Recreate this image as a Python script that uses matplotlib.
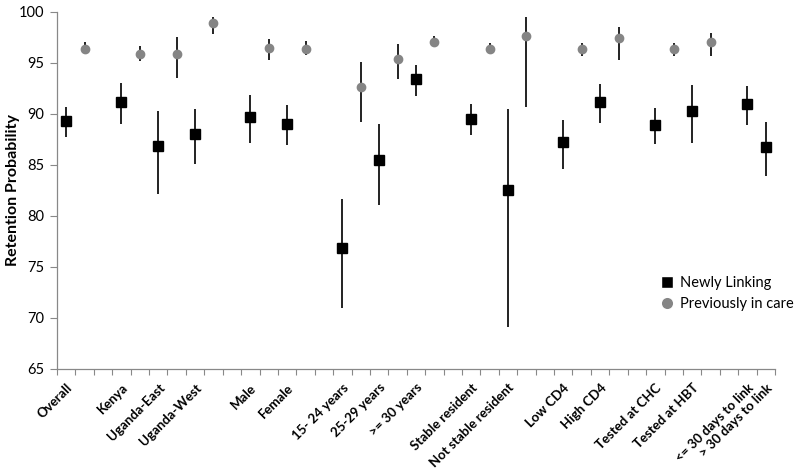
import matplotlib
matplotlib.use('Agg')
import matplotlib.pyplot as plt
from matplotlib.lines import Line2D
from matplotlib.ticker import FixedLocator

plt.rcParams['font.family'] = ['Lato', 'DejaVu Sans']

# category groups (a gap is left between groups)
groups = [
    ['Overall'],
    ['Kenya', 'Uganda-East', 'Uganda-West'],
    ['Male', 'Female'],
    ['15- 24 years', '25-29 years', '>= 30 years'],
    ['Stable resident', 'Not stable resident'],
    ['Low CD4', 'High CD4'],
    ['Tested at CHC', 'Tested at HBT'],
    ['<= 30 days to link', '> 30 days to link'],
]

# Newly linking: estimate, lower, upper
new_est = [89.3, 91.2, 86.8, 88.0, 89.7, 89.0, 76.9, 85.5, 93.4, 89.5, 82.5,
           87.2, 91.2, 88.9, 90.3, 91.0, 86.7]
new_lo = [87.7, 89.0, 82.1, 85.1, 87.1, 86.9, 71.0, 81.1, 91.7, 87.9, 69.1,
          84.6, 89.1, 87.0, 87.1, 88.9, 83.9]
new_hi = [90.7, 93.0, 90.3, 90.5, 91.8, 90.9, 81.7, 89.0, 94.8, 91.0, 90.5,
          89.4, 92.9, 90.6, 92.8, 92.7, 89.2]

# Previously in care (None = not shown)
prev_est = [96.35, 95.9, 95.9, 98.9, 96.4, 96.35, 92.6, 95.4, 97.0, 96.35, 97.6,
            96.3, 97.4, 96.3, 97.0, None, None]
prev_lo = [95.9, 95.2, 93.5, 97.8, 95.3, 95.8, 89.2, 93.4, 96.5, 95.9, 90.65,
           95.7, 95.3, 95.7, 95.7, None, None]
prev_hi = [97.0, 96.6, 97.5, 99.45, 97.3, 97.1, 95.05, 96.8, 97.6, 96.9, 99.45,
           96.9, 98.5, 96.9, 97.9, None, None]

# slot layout: each category uses one slot per series, plus a gap per group
labels, new_x, prev_x = [], [], []
pos = 0
k = 0
for g, grp in enumerate(groups):
    if g > 0:
        pos += 1
    for name in grp:
        labels.append(name)
        new_x.append(pos + 0.5)
        pos += 1
        if prev_est[k] is not None:
            prev_x.append(pos + 0.5)
            pos += 1
        k += 1
n_slots = pos

fig = plt.figure(figsize=(8, 4.7), dpi=100)
ax = fig.add_axes([57 / 800, 101 / 470, 718 / 800, 357.3 / 470])

# newly linking
ax.vlines(new_x, new_lo, new_hi, color='#111111', lw=1.3, zorder=2)
ax.plot(new_x, new_est, 's', color='black', ms=6.5, zorder=3)

# previously in care
pv = [(e, lo, hi) for e, lo, hi in zip(prev_est, prev_lo, prev_hi) if e is not None]
ax.vlines(prev_x, [p[1] for p in pv], [p[2] for p in pv], color='#111111', lw=1.3, zorder=2)
ax.plot(prev_x, [p[0] for p in pv], 'o', color='#858585', ms=6, zorder=3)

ax.set_xlim(0, n_slots)
ax.set_ylim(65, 100)
ax.set_yticks(range(65, 101, 5))

ax.xaxis.set_minor_locator(FixedLocator(range(0, n_slots + 1)))
ax.set_xticks(new_x)
ax.set_xticklabels(labels, rotation=45, ha='right', rotation_mode='anchor',
                   fontsize=9.5, fontweight='bold')
ax.tick_params(axis='x', which='major', length=0, pad=9)
ax.tick_params(axis='x', which='minor', length=4, color='#888888', width=0.8)
ax.tick_params(axis='y', length=5, color='#888888', width=0.8, labelsize=10.5, pad=4)

for s in ['top', 'right']:
    ax.spines[s].set_visible(False)
for s in ['left', 'bottom']:
    ax.spines[s].set_color('#888888')
    ax.spines[s].set_linewidth(0.9)

fig.text(13 / 800, 1 - 190 / 470, 'Retention Probability', rotation=90,
         ha='center', va='center', fontsize=11.5, fontweight='bold')

handles = [
    Line2D([0], [0], marker='s', color='w', markerfacecolor='black', markersize=9,
           label='Newly Linking'),
    Line2D([0], [0], marker='o', color='w', markerfacecolor='#858585', markersize=9,
           label='Previously in care'),
]
ax.legend(handles=handles, loc='upper left', bbox_to_anchor=(0.8295, 0.277),
          frameon=False, fontsize=10.5, handletextpad=0.3, labelspacing=0.5,
          handlelength=1.2, borderaxespad=0)

fig.savefig('out.png', dpi=100)
